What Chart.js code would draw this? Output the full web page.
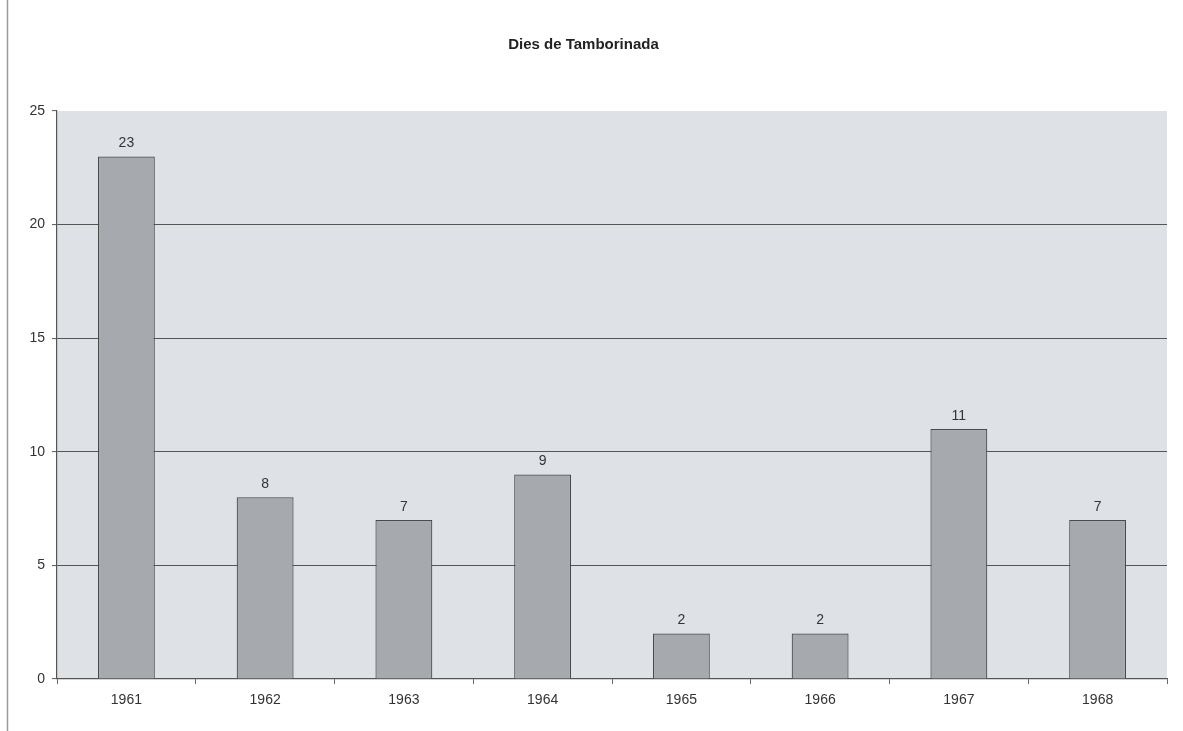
<!DOCTYPE html>
<html>
<head>
<meta charset="utf-8">
<script src="https://cdn.jsdelivr.net/npm/chart.js@4/dist/chart.umd.min.js"></script>
<style>
  html, body { margin: 0; padding: 0; background: #fff; }
  #wrap { width: 1183px; height: 731px; position: relative; }
</style>
</head>
<body>
<div id="wrap"><canvas id="grafica"></canvas></div>
<script>
// dades llegides del gràfic
const anys = ['1961', '1962', '1963', '1964', '1965', '1966', '1967', '1968'];
const dies = [23, 8, 7, 9, 2, 2, 11, 7];
const titol = 'Dies de Tamborinada';

// fons del requadre i marc de la pàgina
const fonsPlugin = {
    id: 'fons',
    beforeDraw(chart) {
        const { ctx, chartArea: a } = chart;
        ctx.save();
        ctx.fillStyle = '#fff';
        ctx.fillRect(0, 0, chart.width, chart.height);
        ctx.strokeStyle = '#9a9a9a';
        ctx.lineWidth = 1.5;
        ctx.beginPath();
        ctx.moveTo(7.5, 0);
        ctx.lineTo(7.5, chart.height);
        ctx.stroke();
        ctx.fillStyle = '#dee2e6';
        ctx.fillRect(a.left, a.top, a.right - a.left, a.bottom - a.top);
        ctx.restore();
    }
};

// valors damunt de cada barra
const etiquetesPlugin = {
    id: 'etiquetes',
    afterDatasetsDraw(chart) {
        const { ctx } = chart;
        const meta = chart.getDatasetMeta(0);
        ctx.save();
        ctx.font = '14px "Liberation Sans", Arial, sans-serif';
        ctx.fillStyle = '#333';
        ctx.textAlign = 'center';
        ctx.textBaseline = 'bottom';
        meta.data.forEach((bar, i) => {
            ctx.fillText(dies[i], bar.x, bar.y - 6);
        });
        ctx.restore();
    }
};

new Chart(document.getElementById('grafica'), {
    type: 'bar',
    data: {
        labels: anys,
        datasets: [{
            label: titol,
            data: dies,
            backgroundColor: '#a6a9ad',
            borderColor: '#4a4a4a',
            borderWidth: 1.2,
            barPercentage: 0.41,
            categoryPercentage: 1
        }]
    },
    options: {
        responsive: true,
        maintainAspectRatio: false,
        animation: false,
        layout: { padding: { left: 0, right: 16, top: 0, bottom: 0 } },
        plugins: {
            legend: { display: false },
            tooltip: { enabled: false },
            title: {
                display: true,
                text: titol,
                color: '#222',
                font: { family: '"Liberation Sans", Arial, sans-serif', size: 15, weight: 'bold' },
                padding: { top: 36, bottom: 57 }
            }
        },
        scales: {
            x: {
                grid: {
                    drawOnChartArea: false,
                    drawTicks: true,
                    tickLength: 5,
                    color: '#666'
                },
                border: { color: '#555', width: 1.2 },
                ticks: {
                    color: '#333',
                    padding: 8,
                    font: { family: '"Liberation Sans", Arial, sans-serif', size: 14 }
                },
                afterFit(scale) { scale.height = 52; }
            },
            y: {
                min: 0,
                max: 25,
                ticks: {
                    stepSize: 5,
                    color: '#333',
                    padding: 7,
                    font: { family: '"Liberation Sans", Arial, sans-serif', size: 14 }
                },
                grid: {
                    color: ctx => (ctx.tick && ctx.tick.value === 25) ? 'rgba(0,0,0,0)' : '#555',
                    lineWidth: 1.1,
                    tickColor: '#666',
                    tickLength: 5
                },
                border: { color: '#555', width: 1.2 },
                afterFit(scale) { scale.width = 57; }
            }
        }
    },
    plugins: [fonsPlugin, etiquetesPlugin]
});
</script>
</body>
</html>
